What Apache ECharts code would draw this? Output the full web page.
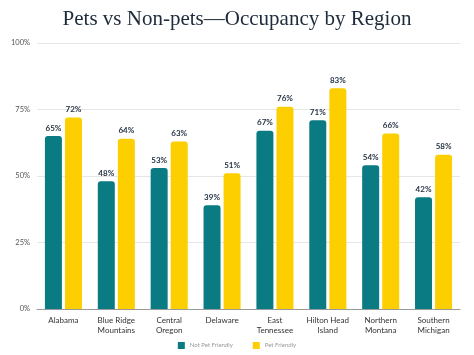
<!DOCTYPE html>
<html><head><meta charset="utf-8">
<script src="https://cdn.jsdelivr.net/npm/echarts@6/dist/echarts.min.js"></script>
<style>html,body{margin:0;padding:0;background:#fff}#c{width:474px;height:355px}</style>
</head><body><div id="c"></div>
<script>
const categories = ['Alabama','Blue Ridge\nMountains','Central\nOregon','Delaware','East\nTennessee','Hilton Head\nIsland','Northern\nMontana','Southern\nMichigan'];
const notPetFriendly = [65,48,53,39,67,71,54,42];
const petFriendly = [72,64,63,51,76,83,66,58];
const yTicks = [0,25,50,75,100];

const chart = echarts.init(document.getElementById('c'));
const lbl = {show:true, position:'top', formatter:'{c}%', fontFamily:'Lato, sans-serif', fontWeight:'bold', fontSize:8, color:'#263445', distance:4};
chart.setOption({
  animation:false,
  title:{text:'Pets vs Non-pets\u2014Occupancy by Region', left:'center', top:4,
    textStyle:{fontFamily:'"Liberation Serif", serif', fontWeight:'normal', fontSize:21, color:'#1d2b3a'}},
  legend:{bottom:1, left:'center', itemWidth:7, itemHeight:7, itemGap:20, icon:'rect',
    textStyle:{fontSize:6, color:'#999', fontFamily:'Lato, sans-serif'}},
  grid:{left:37, right:14, top:43, bottom:46},
  xAxis:{type:'category', data:categories,
    axisLine:{lineStyle:{color:'#999'}}, axisTick:{show:false},
    axisLabel:{fontSize:8, color:'#333', fontFamily:'Lato, sans-serif', margin:6, lineHeight:10, interval:0}},
  yAxis:{type:'value', min:0, max:100, interval:25,
    axisLabel:{formatter:v=>yTicks.includes(v)?v+'%':'', fontSize:7.5, color:'#555', fontFamily:'Lato, sans-serif', margin:7},
    splitLine:{lineStyle:{color:'#e6e6e6'}}, axisLine:{show:false}, axisTick:{show:false}},
  series:[
    {name:'Not Pet Friendly', type:'bar', data:notPetFriendly, barWidth:17, barGap:'18%',
     itemStyle:{color:'#0a7a83', borderRadius:[3,3,0,0]}, label:lbl},
    {name:'Pet Friendly', type:'bar', data:petFriendly, barWidth:17,
     itemStyle:{color:'#fdcf00', borderRadius:[3,3,0,0]}, label:lbl}
  ]
});
</script></body></html>
